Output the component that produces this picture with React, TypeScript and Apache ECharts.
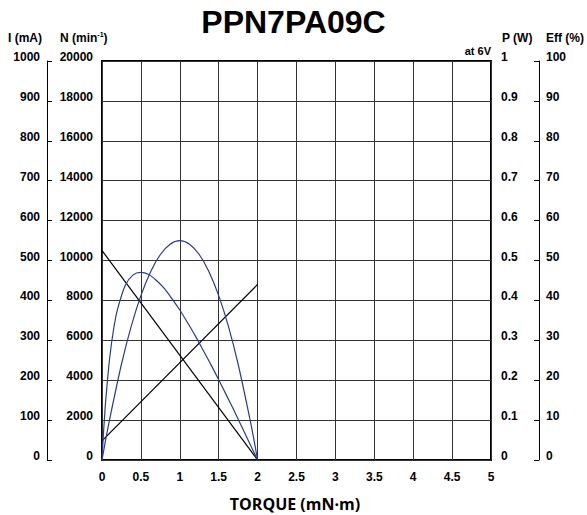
import React, { useEffect, useRef } from "react";
import * as echarts from "echarts";

const torqueLine = [0, 2];
const speedN = [10500, 0];
const currentI = [48, 440];

const torqueP = [0, 0.05, 0.1, 0.25, 0.375, 0.5, 0.625, 0.75, 0.875, 1.0, 1.125, 1.25, 1.375, 1.5, 1.625, 1.75, 1.9, 1.95, 2.0];
const powerP = [0, 0.054, 0.104, 0.24, 0.335, 0.412, 0.472, 0.515, 0.541, 0.55, 0.541, 0.515, 0.472, 0.412, 0.335, 0.24, 0.104, 0.054, 0];

const torqueEff = [0, 0.01, 0.02, 0.03, 0.05, 0.1, 0.15, 0.2, 0.3, 0.4, 0.5, 0.6, 0.7, 0.8, 0.9, 1.0, 1.1, 1.2, 1.3, 1.4, 1.5, 1.6, 1.7, 1.8, 1.9, 2.0];
const effValues = [0, 3.6, 7, 10, 15.5, 25.8, 32.9, 37.8, 43.8, 46.4, 47, 46.5, 45, 43, 40.4, 37.6, 34.4, 31.1, 27.5, 23.9, 20.1, 16.2, 12.3, 8.2, 4.1, 0];

const FONT = "'Liberation Sans', Arial, Helvetica, sans-serif";
const BLUE = "#2a3a98";

const zip = (xs: number[], ys: number[]) => xs.map((x, i) => [x, ys[i]]);

const labelStyle = {
  color: "#000",
  fontFamily: FONT,
  fontWeight: "bold" as const,
  fontSize: 12,
  formatter: (v: number) => String(v),
};

const yLabel = (margin: number) => ({
  ...labelStyle,
  margin,
  verticalAlign: "bottom" as const,
  lineHeight: 8,
});

export default function App() {
  const ref = useRef<HTMLDivElement>(null);
  useEffect(() => {
    if (!ref.current) return;
    const chart = echarts.init(ref.current, undefined, { renderer: "svg" });
    chart.setOption({
      animation: false,
      backgroundColor: "#fff",
      grid: {
        left: 102,
        right: 96,
        top: 61,
        bottom: 55,
        show: true,
        borderColor: "#000",
        borderWidth: 2,
        backgroundColor: "transparent",
      },
      xAxis: {
        type: "value",
        min: 0,
        max: 5,
        interval: 0.5,
        axisLine: { show: false },
        axisTick: { show: false },
        axisLabel: { ...labelStyle, margin: 11 },
        splitLine: { show: true, lineStyle: { color: "#333", width: 1 } },
      },
      yAxis: [
        {
          type: "value",
          position: "left",
          min: 0,
          max: 20000,
          interval: 2000,
          axisLine: { show: false },
          axisTick: { show: false },
          axisLabel: yLabel(9),
          splitLine: { show: true, lineStyle: { color: "#333", width: 1 } },
        },
        {
          type: "value",
          position: "left",
          offset: 55,
          min: 0,
          max: 1000,
          interval: 100,
          axisLine: { show: true, onZero: false, lineStyle: { color: "#000", width: 1 } },
          axisTick: { show: true, inside: true, length: 5, lineStyle: { color: "#000" } },
          axisLabel: yLabel(7),
          splitLine: { show: false },
        },
        {
          type: "value",
          position: "right",
          offset: 0,
          min: 0,
          max: 1,
          interval: 0.1,
          axisLine: { show: false },
          axisTick: { show: false },
          axisLabel: yLabel(10),
          splitLine: { show: false },
        },
        {
          type: "value",
          position: "right",
          offset: 48,
          min: 0,
          max: 100,
          interval: 10,
          axisLine: { show: true, onZero: false, lineStyle: { color: "#000", width: 1 } },
          axisTick: { show: true, inside: true, length: 5, lineStyle: { color: "#000" } },
          axisLabel: yLabel(7),
          splitLine: { show: false },
        },
      ],
      series: [
        {
          name: "N",
          type: "line",
          yAxisIndex: 0,
          data: zip(torqueLine, speedN),
          symbol: "none",
          lineStyle: { color: "#000", width: 1.2 },
        },
        {
          name: "I",
          type: "line",
          yAxisIndex: 1,
          data: zip(torqueLine, currentI),
          symbol: "none",
          lineStyle: { color: "#000", width: 1.2 },
        },
        {
          name: "P",
          type: "line",
          yAxisIndex: 2,
          data: zip(torqueP, powerP),
          smooth: 0.3,
          symbol: "none",
          lineStyle: { color: BLUE, width: 1.2 },
        },
        {
          name: "Eff",
          type: "line",
          yAxisIndex: 3,
          data: zip(torqueEff, effValues),
          smooth: 0.3,
          symbol: "none",
          lineStyle: { color: BLUE, width: 1.2 },
        },
      ],
      graphic: [
        {
          type: "text",
          left: "center",
          top: 6,
          style: {
            text: "PPN7PA09C",
            fill: "#000",
            font: `bold 32px ${FONT}`,
          },
        },
        {
          type: "text",
          x: 8,
          y: 38,
          style: { text: "I (mA)", fill: "#000", font: `bold 12px ${FONT}`, verticalAlign: "middle" },
        },
        {
          type: "text",
          x: 60,
          y: 38,
          style: {
            text: "{a|N (min}{s|-1}{a|)}",
            verticalAlign: "middle",
            rich: {
              a: { fill: "#000", fontFamily: FONT, fontWeight: "bold", fontSize: 12, lineHeight: 14 },
              s: { fill: "#000", fontFamily: FONT, fontWeight: "bold", fontSize: 7, lineHeight: 7, verticalAlign: "top" },
            },
          },
        },
        {
          type: "text",
          x: 502,
          y: 38,
          style: { text: "P (W)", fill: "#000", font: `bold 12px ${FONT}`, verticalAlign: "middle" },
        },
        {
          type: "text",
          x: 546,
          y: 38,
          style: { text: "Eff (%)", fill: "#000", font: `bold 12px ${FONT}`, verticalAlign: "middle" },
        },
        {
          type: "text",
          x: 491,
          y: 51,
          style: { text: "at 6V", fill: "#000", font: `bold 11px ${FONT}`, align: "right", verticalAlign: "middle" },
        },
        {
          type: "text",
          x: 295,
          y: 504,
          style: {
            text: "TORQUE (mN·m)",
            fill: "#000",
            font: `bold 16px 'Open Sans', Lato, sans-serif`,
            align: "center",
            verticalAlign: "middle",
          },
        },
      ],
    });
    return () => chart.dispose();
  }, []);
  return (
    <div
      ref={ref}
      style={{ position: "fixed", left: 0, top: 0, width: 587, height: 515 }}
    />
  );
}
